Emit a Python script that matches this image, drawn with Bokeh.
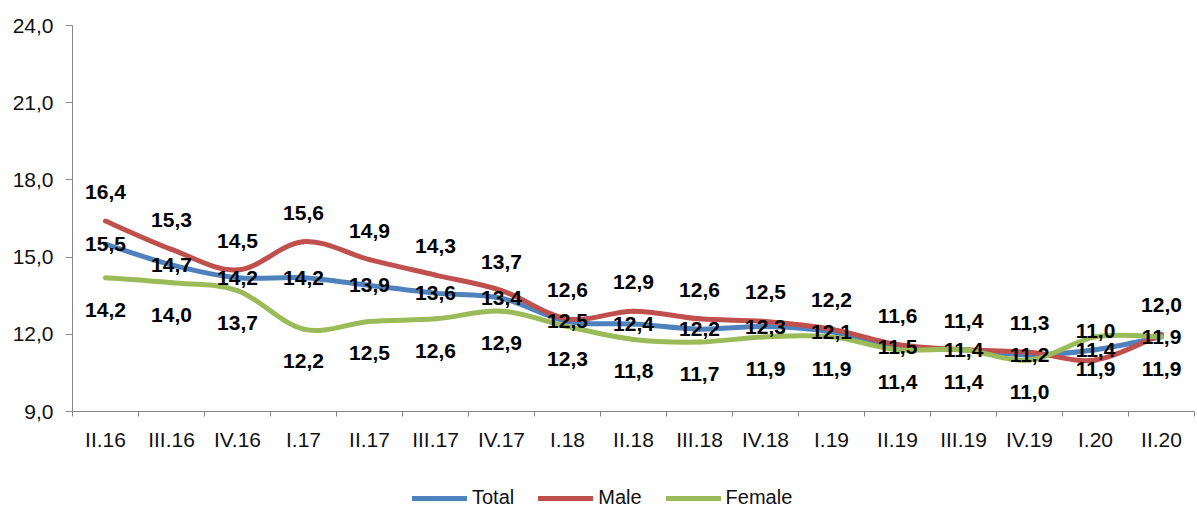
from bokeh.plotting import figure
from bokeh.layouts import column
from bokeh.models import (Range1d, FixedTicker, CustomJSTickFormatter, Legend,
                          LegendItem, ColumnDataSource)
from bokeh.core.properties import value
from bokeh.embed import file_html
from bokeh.resources import INLINE

# Quarterly rates, %
quarters = ["II.16", "III.16", "IV.16", "I.17", "II.17", "III.17", "IV.17",
            "I.18", "II.18", "III.18", "IV.18", "I.19", "II.19", "III.19",
            "IV.19", "I.20", "II.20"]
total = [15.5, 14.7, 14.2, 14.2, 13.9, 13.6, 13.4, 12.5, 12.4, 12.2, 12.3,
         12.1, 11.5, 11.4, 11.2, 11.4, 11.9]
male = [16.4, 15.3, 14.5, 15.6, 14.9, 14.3, 13.7, 12.6, 12.9, 12.6, 12.5,
        12.2, 11.6, 11.4, 11.3, 11.0, 12.0]
female = [14.2, 14.0, 13.7, 12.2, 12.5, 12.6, 12.9, 12.3, 11.8, 11.7, 11.9,
          11.9, 11.4, 11.4, 11.0, 11.9, 11.9]
y_ticks = [9, 12, 15, 18, 21, 24]
series_names = ["Total", "Male", "Female"]

FONT = "Liberation Sans"
COLORS = ["#4F81BD", "#C0504D", "#9BBB59"]
AXIS = "#868686"
TEXT = "#111111"

xs = list(range(len(quarters)))
series = [total, male, female]


def smooth_segments(x, y):
    """Catmull-Rom style cubic Bezier pieces through the points."""
    n = len(x)
    d = dict(x0=[], y0=[], x1=[], y1=[], cx0=[], cy0=[], cx1=[], cy1=[])
    for i in range(n - 1):
        a = i - 1 if i > 0 else i
        b = i + 2 if i + 2 < n else i + 1
        d["x0"].append(x[i]); d["y0"].append(y[i])
        d["x1"].append(x[i + 1]); d["y1"].append(y[i + 1])
        d["cx0"].append(x[i] + (x[i + 1] - x[a]) / 6)
        d["cy0"].append(y[i] + (y[i + 1] - y[a]) / 6)
        d["cx1"].append(x[i + 1] - (x[b] - x[i]) / 6)
        d["cy1"].append(y[i + 1] - (y[b] - y[i]) / 6)
    return ColumnDataSource(d)


p = figure(width=1197, height=461, output_backend="svg", toolbar_location=None,
           x_range=Range1d(-0.5, len(quarters) - 0.5), y_range=Range1d(9, 24),
           min_border_left=72, min_border_right=3, min_border_top=25,
           min_border_bottom=50, background_fill_color="white",
           border_fill_color="white")
p.outline_line_color = None
p.xgrid.visible = False
p.ygrid.visible = False

# x axis: labels at category centres, tick marks between categories
xa = p.xaxis[0]
xa.ticker = FixedTicker(ticks=xs, minor_ticks=[i - 0.5 for i in range(len(quarters) + 1)])
xa.major_label_overrides = {i: q for i, q in enumerate(quarters)}
xa.major_tick_out = 0
xa.major_tick_in = 0
xa.minor_tick_out = 5
xa.minor_tick_in = 0
xa.minor_tick_line_color = AXIS
xa.axis_line_color = AXIS
xa.major_label_standoff = 11
xa.major_label_text_font = FONT
xa.major_label_text_font_size = "21px"
xa.major_label_text_color = TEXT

ya = p.yaxis[0]
ya.ticker = FixedTicker(ticks=y_ticks)
ya.formatter = CustomJSTickFormatter(code="return tick.toFixed(1).replace('.', ',');")
ya.major_tick_out = 7
ya.major_tick_in = 0
ya.minor_tick_out = 0
ya.minor_tick_in = 0
ya.major_tick_line_color = AXIS
ya.axis_line_color = AXIS
ya.major_label_standoff = 12
ya.major_label_text_font = FONT
ya.major_label_text_font_size = "21px"
ya.major_label_text_color = TEXT

for ys, col in zip(series, COLORS):
    p.bezier(x0="x0", y0="y0", x1="x1", y1="y1", cx0="cx0", cy0="cy0",
             cx1="cx1", cy1="cy1", source=smooth_segments(xs, ys),
             line_color=col, line_width=5, line_cap="round")

# value labels: male above, total on the line, female below
for ys, off in [(total, 0), (male, -29), (female, 32)]:
    p.text(x=xs, y=ys, text=[f"{v:.1f}".replace(".", ",") for v in ys],
           y_offset=off, text_font=value(FONT), text_font_style="bold",
           text_font_size="21px", text_color="black", text_align="center",
           text_baseline="middle")

# legend strip under the chart; its line renderers fall outside the strip's
# ranges, so only their legend swatches show
leg = figure(width=1197, height=48, output_backend="svg", toolbar_location=None,
             x_range=Range1d(-100, -99), y_range=Range1d(-100, -99),
             min_border=0, background_fill_color="white",
             border_fill_color="white")
leg.outline_line_color = None
leg.axis.visible = False
leg.grid.visible = False
swatches = [leg.line(x=xs, y=ys, line_color=c, line_width=5, line_cap="round")
            for ys, c in zip(series, COLORS)]
legend = Legend(items=[LegendItem(label=n, renderers=[r])
                       for n, r in zip(series_names, swatches)],
                orientation="horizontal", location=(340, 0),
                glyph_width=55, glyph_height=20, label_standoff=5, spacing=24,
                padding=0, margin=0, border_line_color=None,
                background_fill_alpha=0, label_text_font=FONT,
                label_text_font_size="20px", label_text_color=TEXT)
leg.add_layout(legend, "center")

layout = column(p, leg, spacing=0)
open("out.html", "w").write(file_html(layout, INLINE))
